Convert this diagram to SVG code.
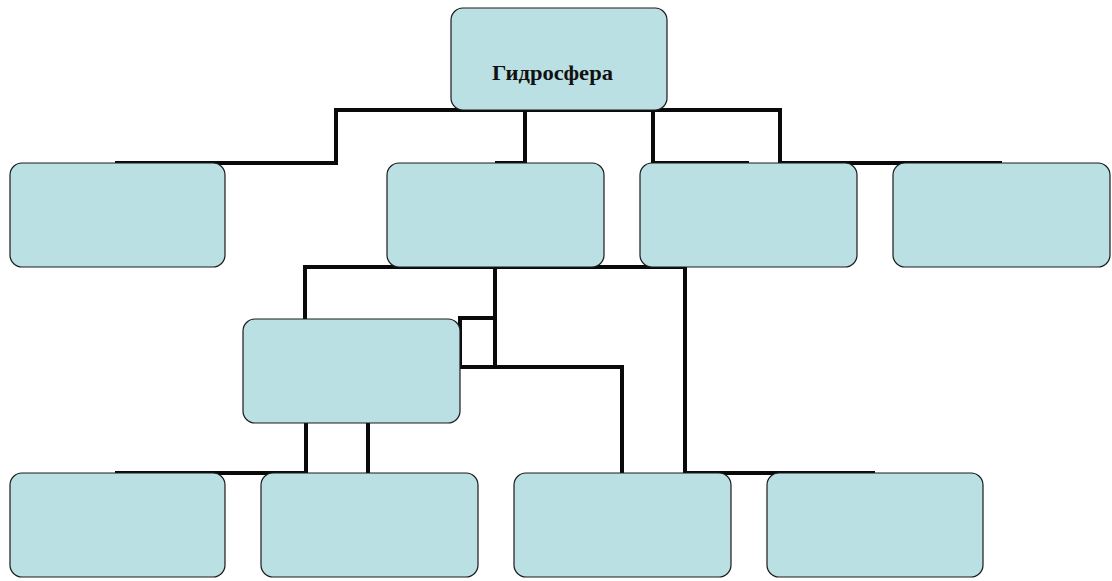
<svg xmlns="http://www.w3.org/2000/svg" width="1112" height="581" viewBox="0 0 1112 581">
  <style>
    .box { fill: #bbe0e3; stroke: #1a1a1a; stroke-width: 1.2; }
    .wire { fill: none; stroke: #0a0a0a; stroke-width: 4; stroke-linejoin: miter; stroke-linecap: square; }
    .label { font-family: "Liberation Serif", "Times New Roman", serif; font-weight: bold; font-size: 21px; fill: #111; }
  </style>
  <rect width="1112" height="581" fill="#ffffff"/>

  <!-- connectors -->
  <g id="connectors">
    <!-- from the root down to the second row -->
    <path class="wire" d="M 336 110 L 780 110"/>
    <path class="wire" d="M 117 163 L 336 163 L 336 110"/>
    <path class="wire" d="M 525 110 L 525 163 L 497 163"/>
    <path class="wire" d="M 747 163 L 653 163 L 653 110"/>
    <path class="wire" d="M 780 110 L 780 163 L 1000 163"/>
    <!-- from the second row down -->
    <path class="wire" d="M 305 319 L 305 267 L 685 267"/>
    <path class="wire" d="M 495 267 L 495 367"/>
    <path class="wire" d="M 460 318 L 495 318"/>
    <path class="wire" d="M 460 318 L 460 367 L 622 367 L 622 473"/>
    <path class="wire" d="M 685 267 L 685 473 L 873 473"/>
    <!-- from the middle box down to the bottom row -->
    <path class="wire" d="M 306 423 L 306 473 L 117 473"/>
    <path class="wire" d="M 368 423 L 368 473"/>
  </g>

  <!-- root -->
  <g id="root">
    <rect class="box" x="451" y="8" width="216" height="102" rx="12"/>
    <text class="label" x="492" y="80" textLength="121" lengthAdjust="spacingAndGlyphs">Гидросфера</text>
  </g>

  <!-- second row -->
  <g id="n1"><rect class="box" x="10" y="163" width="215" height="104" rx="12"/></g>
  <g id="n2"><rect class="box" x="387" y="163" width="217" height="104" rx="12"/></g>
  <g id="n3"><rect class="box" x="640" y="163" width="217" height="104" rx="12"/></g>
  <g id="n4"><rect class="box" x="893" y="163" width="217" height="104" rx="12"/></g>

  <!-- third row -->
  <g id="n5"><rect class="box" x="243" y="319" width="217" height="104" rx="12"/></g>

  <!-- bottom row -->
  <g id="n6"><rect class="box" x="10" y="473" width="215" height="104" rx="12"/></g>
  <g id="n7"><rect class="box" x="261" y="473" width="217" height="104" rx="12"/></g>
  <g id="n8"><rect class="box" x="514" y="473" width="217" height="104" rx="12"/></g>
  <g id="n9"><rect class="box" x="767" y="473" width="216" height="104" rx="12"/></g>
</svg>
